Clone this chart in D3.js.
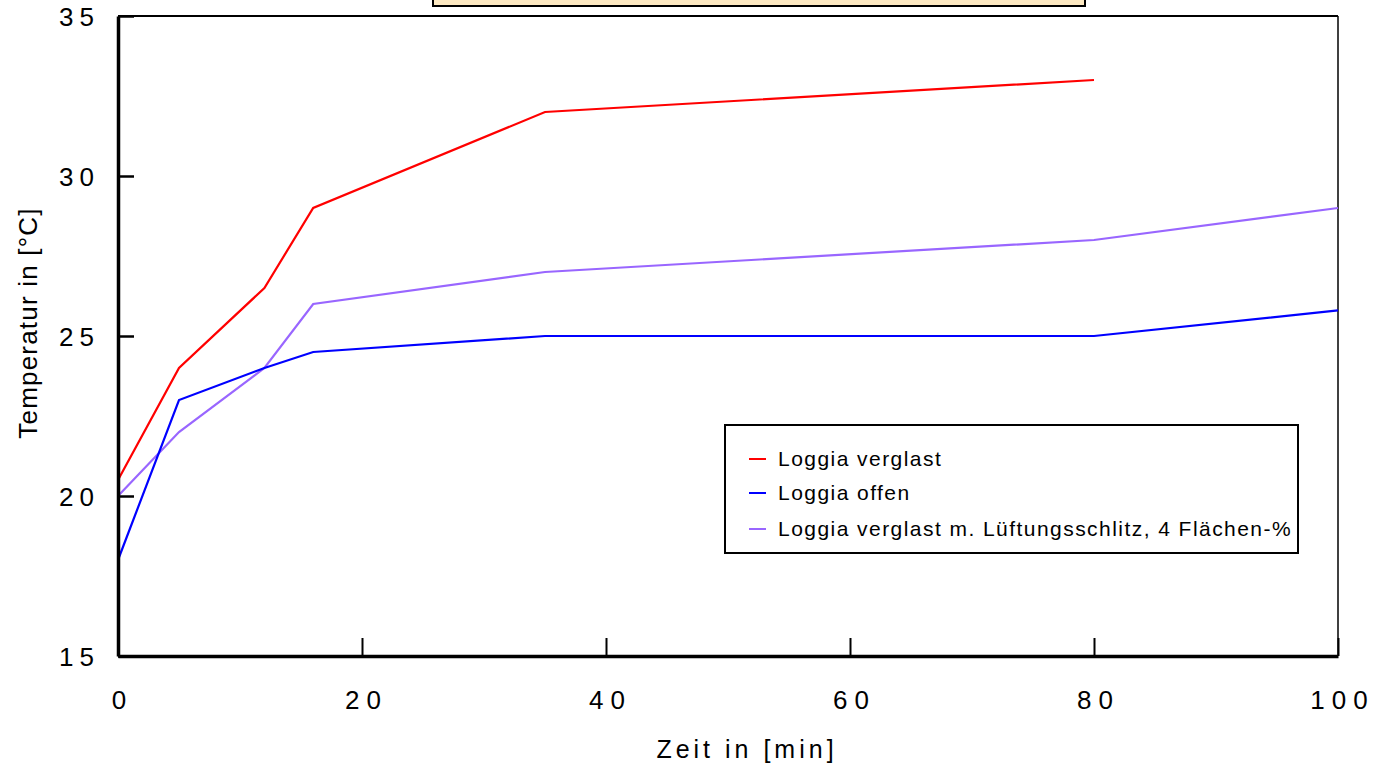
<!DOCTYPE html>
<html>
<head>
<meta charset="utf-8">
<script src="https://cdn.jsdelivr.net/npm/d3@7/dist/d3.min.js"></script>
<style>
  html, body { margin: 0; padding: 0; background: #fff; }
  svg { display: block; }
  text { font-family: "Liberation Sans", Arial, sans-serif; fill: #000; }
</style>
</head>
<body>
<svg id="chart" width="1378" height="767"></svg>
<script>
// Zeit in Minuten
const zeit = [0, 5, 12, 16, 35, 80, 100];

// Temperaturverläufe in °C
const verglast = [20.5, 24, 26.5, 29, 32, 33];          // endet bei 80 min
const offen = [18, 23, 24, 24.5, 25, 25, 25.8];
const schlitz = [20, 22, 24, 26, 27, 28, 29];

const seriesNames = ["Loggia verglast", "Loggia offen", "Loggia verglast m. Lüftungsschlitz, 4 Flächen-%"];
const seriesColors = ["#ff0000", "#0000ff", "#9966ff"];

const xTicks = [0, 20, 40, 60, 80, 100];
const yTicks = [15, 20, 25, 30, 35];

const svg = d3.select("#chart");

const x = d3.scaleLinear().domain([0, 100]).range([118, 1338]);
const y = d3.scaleLinear().domain([15, 35]).range([656, 16]);

// Titelkasten (oben angeschnitten)
svg.append("rect")
  .attr("x", 433).attr("y", -10)
  .attr("width", 652).attr("height", 16)
  .attr("fill", "#fde9c2")
  .attr("stroke", "#000").attr("stroke-width", 2);

// Rahmen oben und rechts
svg.append("line")
  .attr("x1", x(0)).attr("x2", x(100)).attr("y1", y(35)).attr("y2", y(35))
  .attr("stroke", "#000").attr("stroke-width", 2);
svg.append("line")
  .attr("x1", x(100)).attr("x2", x(100)).attr("y1", y(35)).attr("y2", y(15))
  .attr("stroke", "#000").attr("stroke-width", 1.5);

// Datenlinien
const line = d3.line().x(d => x(d[0])).y(d => y(d[1]));
const series = [
  verglast.map((v, i) => [zeit[i], v]),
  offen.map((v, i) => [zeit[i], v]),
  schlitz.map((v, i) => [zeit[i], v])
];
// purple first so red/blue sit on top
[2, 1, 0].forEach(k => {
  svg.append("path")
    .datum(series[k])
    .attr("d", line)
    .attr("fill", "none")
    .attr("stroke", seriesColors[k])
    .attr("stroke-width", 2.2)
    .attr("stroke-linejoin", "miter");
});

// y-Achse
const yAxis = svg.append("g")
  .attr("transform", `translate(${x(0)},0)`)
  .call(d3.axisLeft(y).tickValues(yTicks).tickSizeInner(-16).tickSizeOuter(0).tickPadding(18));
yAxis.select(".domain").attr("stroke-width", 3.5);
yAxis.selectAll(".tick line").attr("stroke-width", 2.5);
yAxis.selectAll(".tick text")
  .attr("font-family", "Liberation Sans, Arial, sans-serif")
  .attr("font-size", 26)
  .attr("letter-spacing", 6)
  .attr("dy", "0.36em");

// x-Achse
const xAxis = svg.append("g")
  .attr("transform", `translate(0,${y(15)})`)
  .call(d3.axisBottom(x).tickValues(xTicks).tickSizeInner(-18).tickSizeOuter(0).tickPadding(35));
xAxis.select(".domain").attr("stroke-width", 3.5);
xAxis.selectAll(".tick line").attr("stroke-width", 2);
xAxis.selectAll(".tick text")
  .attr("font-family", "Liberation Sans, Arial, sans-serif")
  .attr("font-size", 26)
  .attr("letter-spacing", 7)
  .attr("dx", 4);

// Achsentitel
svg.append("text")
  .attr("x", 747).attr("y", 758)
  .attr("text-anchor", "middle")
  .attr("font-size", 25)
  .attr("letter-spacing", 4)
  .text("Zeit in [min]");

svg.append("text")
  .attr("transform", "translate(37,323) rotate(-90)")
  .attr("text-anchor", "middle")
  .attr("font-size", 26)
  .attr("letter-spacing", 1.2)
  .text("Temperatur in [°C]");

// Legende
const legend = svg.append("g");
legend.append("rect")
  .attr("x", 725).attr("y", 425)
  .attr("width", 573).attr("height", 128)
  .attr("fill", "#fff")
  .attr("stroke", "#000").attr("stroke-width", 2);

const rowY = [459, 493, 529];
seriesNames.forEach((name, i) => {
  legend.append("line")
    .attr("x1", 749).attr("x2", 766)
    .attr("y1", rowY[i]).attr("y2", rowY[i])
    .attr("stroke", seriesColors[i]).attr("stroke-width", 2);
  legend.append("text")
    .attr("x", 778).attr("y", rowY[i])
    .attr("dy", "0.34em")
    .attr("font-size", 21)
    .attr("letter-spacing", 1.45)
    .text(name);
});
</script>
</body>
</html>
